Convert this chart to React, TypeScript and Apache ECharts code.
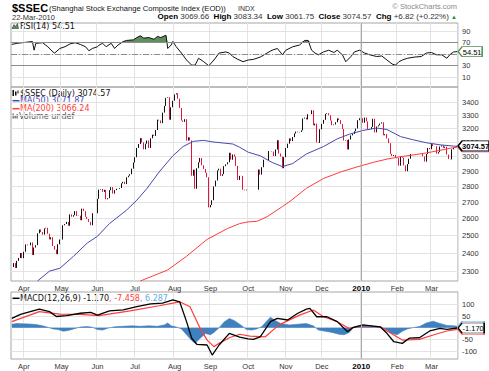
import React, { useEffect, useRef } from 'react';
import * as echarts from 'echarts';

// ---------- DATA (daily closes, every weekday incl. exchange holidays as flat bars) ----------
const closeMar09 = [2325, 2346, 2320, 2358, 2374, 2401, 2373];
const closeApr09 = [2408, 2449, 2444, 2444, 2460, 2390, 2432, 2445, 2513, 2535, 2520, 2505, 2541, 2545, 2510, 2478, 2490, 2440, 2420, 2395, 2450, 2477];
const closeMay09 = [2477, 2560, 2567, 2580, 2557, 2625, 2611, 2620, 2645, 2615, 2617, 2590, 2660, 2645, 2610, 2597, 2580, 2560, 2632, 2632, 2632];
const closeJun09 = [2721, 2779, 2783, 2765, 2778, 2718, 2725, 2776, 2795, 2754, 2776, 2785, 2784, 2789, 2820, 2830, 2815, 2860, 2870, 2880, 2917, 2959];
const closeJul09 = [2995, 3060, 3088, 3130, 3100, 3050, 3090, 3113, 3060, 3129, 3155, 3146, 3189, 3266, 3260, 3240, 3320, 3372, 3435, 3440, 3266, 3361, 3412];
const closeAug09 = [3462, 3471, 3428, 3356, 3260, 3250, 3270, 3112, 3136, 3113, 2870, 2910, 2785, 2920, 2960, 2990, 2940, 2915, 2890, 2860, 2668];
const closeSep09 = [2683, 2712, 2800, 2838, 2905, 2917, 2869, 2880, 2934, 2946, 2960, 3026, 2978, 3014, 2999, 2936, 2842, 2869, 2868, 2779, 2775, 2779];
const closeOct09 = [2779, 2779, 2779, 2779, 2779, 2779, 2911, 2877, 2927, 2978, 2978, 2976, 3038, 3037, 3034, 3004, 3049, 3115, 3021, 3000, 2920, 2996];
const closeNov09 = [3059, 3090, 3128, 3109, 3137, 3164, 3178, 3172, 3175, 3187, 3275, 3282, 3268, 3308, 3308, 3338, 3224, 3237, 3099, 3096, 3195];
const closeDec09 = [3235, 3265, 3310, 3315, 3300, 3260, 3225, 3230, 3247, 3276, 3263, 3234, 3197, 3113, 3117, 3049, 3120, 3150, 3160, 3180, 3200, 3262, 3277];
const closeJan10 = [3277, 3243, 3282, 3254, 3193, 3196, 3212, 3273, 3172, 3215, 3224, 3237, 3246, 3151, 3159, 3128, 3094, 3019, 3004, 3011, 2989];
const closeFeb10 = [2990, 2937, 3001, 2992, 2939, 2900, 2948, 2985, 3017, 3018, 3018, 3018, 3018, 3018, 3018, 3001, 2965, 3017, 3060, 3051];
const closeMar10 = [3087, 3073, 3072, 3020, 3031, 3070, 3078, 3061, 3069, 3013, 2982, 2980, 3050, 3062, 3067.75, 3074.57];

// indicator readings: [trading-day index, value]
const ma50Points = [[15, 2251], [22, 2303], [28, 2318], [36, 2383], [44, 2457], [50, 2496], [57, 2570], [67, 2651], [73, 2713], [79, 2788], [86, 2895], [94, 3005], [100, 3070], [106, 3107], [112, 3114], [117, 3103], [129, 3088], [133, 3065], [138, 3030], [145, 3005], [152, 2959], [158, 2931], [164, 2952], [172, 3018], [182, 3070], [190, 3125], [197, 3158], [205, 3186], [213, 3204], [219, 3193], [227, 3141], [234, 3119], [242, 3097], [250, 3082], [258, 3073], [260, 3071.87]];
const ma200Points = [[75, 2251], [91, 2309], [102, 2383], [114, 2478], [126, 2541], [133, 2570], [138, 2580], [143, 2583], [149, 2611], [158, 2673], [163, 2710], [172, 2788], [182, 2852], [192, 2895], [201, 2927], [211, 2960], [219, 2982], [227, 2999], [234, 3010], [242, 3025], [250, 3043], [256, 3058], [260, 3066.24]];
const rsiPoints = [[0, 67], [3, 69], [6, 70], [12, 72], [13, 57], [14, 69], [18, 70], [21, 63], [24, 54], [25, 52], [28, 60], [31, 63], [34, 68], [37, 70], [40, 67], [43, 63], [45, 56], [47, 60], [50, 63], [51, 66], [53, 69], [55, 63], [58, 69], [60, 60], [62, 66], [65, 72], [67, 74], [71, 75], [73, 79], [75, 82], [77, 78], [80, 79], [83, 76], [85, 81], [87, 79], [90, 83], [91, 60], [93, 66], [94, 72], [96, 63], [99, 52], [102, 40], [105, 31], [107, 31], [109, 43], [112, 37], [115, 30], [118, 40], [121, 52], [125, 54], [127, 52], [129, 46], [132, 41], [135, 37], [138, 40], [141, 41], [145, 45], [149, 52], [152, 57], [155, 60], [158, 49], [160, 57], [164, 63], [168, 66], [171, 74], [173, 74], [175, 57], [177, 52], [179, 49], [182, 54], [185, 57], [188, 53], [190, 57], [193, 49], [195, 37], [198, 46], [200, 54], [203, 57], [206, 52], [209, 49], [213, 46], [216, 47], [219, 40], [222, 33], [224, 31], [226, 37], [228, 40], [231, 43], [235, 45], [239, 46], [242, 52], [245, 53], [248, 49], [251, 49], [254, 43], [256, 50], [258, 54], [260, 54.51]];
const macdPoints = [[0, 40], [5, 57], [16, 80], [22, 69], [26, 48], [32, 52], [40, 62], [46, 66], [50, 54], [57, 72], [65, 76], [73, 90], [81, 102], [88, 105], [94, 119], [98, 111], [102, 26], [105, -45], [108, -71], [114, -74], [117, -117], [121, -74], [127, -24], [133, -40], [138, -48], [141, -50], [145, -39], [151, 26], [155, 40], [161, 33], [167, 62], [172, 80], [174, 83], [178, 47], [184, 47], [190, 26], [196, -17], [199, 0], [205, 12], [211, 7], [215, 4], [219, -24], [223, -60], [228, -67], [232, -45], [238, -43], [244, -14], [250, -3], [254, -7], [260, -1.17]];
const signalPoints = [[0, 26], [16, 69], [28, 58], [40, 57], [51, 52], [69, 72], [86, 94], [98, 111], [104, 90], [110, -3], [114, -53], [118, -81], [121, -67], [127, -43], [133, -28], [139, -36], [148, -39], [156, 12], [168, 54], [176, 76], [182, 47], [190, 26], [197, -3], [205, 9], [215, 4], [223, -31], [228, -53], [238, -50], [246, -31], [254, -14], [260, -7.458]];
const histPoints = [[0, 15], [3, 18], [6, 17], [10, 16], [14, 14], [18, 8], [21, 2], [24, -5], [27, -8], [30, -15], [33, -12], [36, -5], [40, 3], [44, 5], [47, 2], [50, -8], [53, -10], [56, -2], [60, 4], [65, 6], [70, 8], [75, 6], [80, 8], [85, 6], [89, 12], [91, 20], [93, 8], [96, 3], [99, -5], [102, -30], [105, -55], [107, -67], [110, -45], [113, -25], [116, -30], [118, -20], [121, 0], [124, 25], [127, 40], [130, 30], [134, 10], [137, -8], [140, -10], [143, -5], [146, 5], [149, 30], [151, 45], [154, 30], [157, 18], [162, 12], [167, 15], [172, 18], [176, 8], [179, -10], [183, -15], [187, -20], [191, -28], [194, -30], [197, -20], [200, 5], [205, 8], [210, 8], [215, 5], [219, -10], [222, -25], [225, -30], [228, -15], [231, -5], [234, 0], [238, 5], [242, 20], [246, 28], [250, 18], [254, 10], [258, 8], [260, 6.287]];

const priceTicks = [2300, 2400, 2500, 2600, 2700, 2800, 2900, 3000, 3100, 3200, 3300, 3400];
const rsiTicks = [10, 30, 50, 70, 90];
const macdLabelTicks = [-100, -50, 50, 100];
const macdGridTicks = [-100, -50, 0, 50, 100];
const monthNames = ['Jan', 'Feb', 'Mar', 'Apr', 'May', 'Jun', 'Jul', 'Aug', 'Sep', 'Oct', 'Nov', 'Dec'];

const quote = { open: '3069.66', high: '3083.34', low: '3061.75', close: '3074.57', chg: '+6.82 (+0.22%)' };
const lastVals = { rsi: '54.51', ma50: '3071.87', ma200: '3066.24', macd: '-1.170', signal: '-7.458', hist: '6.287' };

// ---------- helpers ----------
const dates: string[] = [];
for (let t = Date.UTC(2009, 2, 23); t <= Date.UTC(2010, 2, 22); t += 86400000) {
  const d = new Date(t);
  const wd = d.getUTCDay();
  if (wd === 0 || wd === 6) continue;
  dates.push(d.toISOString().slice(0, 10));
}
const LAST = dates.length - 1;
const monthStart = dates.map((d, i) => i > 0 && d.slice(5, 7) !== dates[i - 1].slice(5, 7));
const isMonthStart = (i: number) => !!monthStart[i];

const closes = [
  ...closeMar09, ...closeApr09, ...closeMay09, ...closeJun09, ...closeJul09, ...closeAug09,
  ...closeSep09, ...closeOct09, ...closeNov09, ...closeDec09, ...closeJan10, ...closeFeb10, ...closeMar10,
];
const candles = closes.map((c, i) => {
  const o = i === 0 ? c : closes[i - 1];
  return [o, c, Math.min(o, c), Math.max(o, c)];
});

const FA = '"Liberation Sans", Arial, sans-serif';
const FL = '"DejaVu Sans", Verdana, sans-serif';
const GRID = '#e3e3e3';

function tag(value: number, text: string | null, border: string, width: number, z: number, bold = false) {
  return {
    silent: true,
    z,
    symbol: `path://M0,5L4,0L${width},0L${width},10L4,10Z`,
    symbolSize: [width, 10],
    symbolOffset: [width / 2 + 1, 0],
    itemStyle: { color: '#fff', borderColor: border, borderWidth: 1 },
    label: text === null ? { show: false } : {
      show: true, position: 'inside', formatter: text, offset: [2, 0.5],
      color: '#000', fontSize: 7.5, fontWeight: bold ? 'bold' : 'normal', fontFamily: FA,
    },
    data: [{ coord: [LAST, value] }],
  };
}

const vline2010 = { xAxis: '2010-01-01', lineStyle: { color: '#a8a8a8', type: 'solid', width: 1 } };

function xAxis(g: number) {
  return {
    type: 'category', gridIndex: g, data: dates, boundaryGap: true,
    axisLine: { show: false }, axisTick: { show: false },
    axisLabel: g === 0 ? { show: false } : {
      show: true, interval: (i: number) => isMonthStart(i), margin: 3,
      fontSize: 7.5, color: '#333', fontFamily: FA,
      formatter: (v: string) => {
        const m = +v.slice(5, 7);
        return m === 1 ? `{y|${v.slice(0, 4)}}` : monthNames[m - 1];
      },
      rich: { y: { fontWeight: 'bold', fontSize: 8, color: '#000', fontFamily: FA } },
    },
    splitLine: { show: true, interval: (i: number) => isMonthStart(i), lineStyle: { color: GRID, width: 1 } },
  };
}

function yLabel(custom: number[]) {
  return { customValues: custom, margin: 4, fontSize: 7.5, color: '#333', fontFamily: FA, formatter: (v: number) => String(Math.round(v)) };
}

const option: any = {
  animation: false,
  backgroundColor: '#fff',
  grid: [
    { left: 11, top: 23, width: 447, height: 64, show: true, borderColor: '#a6a6a6', borderWidth: 1, backgroundColor: 'transparent' },
    { left: 11, top: 87, width: 447, height: 194, show: true, borderColor: '#a6a6a6', borderWidth: 1, backgroundColor: 'transparent' },
    { left: 11, top: 292, width: 447, height: 67, show: true, borderColor: '#a6a6a6', borderWidth: 1, backgroundColor: 'transparent' },
  ],
  xAxis: [xAxis(0), xAxis(1), xAxis(2)],
  yAxis: [
    {
      type: 'value', gridIndex: 0, position: 'right', min: -7, max: 104.3,
      axisLine: { show: false }, axisTick: { show: false, customValues: rsiTicks },
      axisLabel: yLabel(rsiTicks), splitLine: { show: true, lineStyle: { color: GRID } },
    },
    {
      type: 'log', logBase: 10, gridIndex: 1, position: 'right', min: 2251, max: 3522,
      axisLine: { show: false }, axisTick: { show: false, customValues: priceTicks },
      axisLabel: yLabel(priceTicks), splitLine: { show: true, lineStyle: { color: GRID } },
    },
    {
      type: 'value', gridIndex: 2, position: 'right', min: -134, max: 153,
      axisLine: { show: false }, axisTick: { show: false, customValues: macdGridTicks },
      axisLabel: yLabel(macdLabelTicks), splitLine: { show: true, lineStyle: { color: GRID } },
    },
  ],
  series: [
    // RSI overbought fill (stack: 70 baseline + excess)
    {
      type: 'line', xAxisIndex: 0, yAxisIndex: 0, stack: 'ob', symbol: 'none', silent: true,
      data: rsiPoints.map(([i]) => [i, 70]), lineStyle: { opacity: 0 },
    },
    {
      type: 'line', xAxisIndex: 0, yAxisIndex: 0, stack: 'ob', symbol: 'none', silent: true,
      data: rsiPoints.map(([i, v]) => [i, Math.max(0, v - 70)]), lineStyle: { opacity: 0 },
      areaStyle: { color: '#5e8f5e', opacity: 1 },
    },
    {
      type: 'line', xAxisIndex: 0, yAxisIndex: 0, symbol: 'none', data: rsiPoints,
      lineStyle: { color: '#111', width: 1 }, z: 3,
      markLine: {
        silent: true, symbol: 'none', label: { show: false },
        data: [
          { yAxis: 70, lineStyle: { color: '#8c8c8c', type: 'solid', width: 1 } },
          { yAxis: 30, lineStyle: { color: '#8c8c8c', type: 'solid', width: 1 } },
          { yAxis: 50, lineStyle: { color: '#8c8c8c', type: [6, 2, 1, 2], width: 1 } },
          vline2010,
        ],
      },
      markPoint: tag(54.51, lastVals.rsi, '#4f8f4f', 24, 8),
    },
    // price
    {
      type: 'candlestick', xAxisIndex: 1, yAxisIndex: 1, data: candles, barWidth: 1.2,
      itemStyle: { color: '#111', color0: '#e4163a', borderColor: '#111', borderColor0: '#e4163a', borderWidth: 1 },
      markLine: { silent: true, symbol: 'none', label: { show: false }, data: [vline2010] },
      markPoint: tag(3074.57, quote.close, '#000', 31, 9, true),
    },
    {
      type: 'line', xAxisIndex: 1, yAxisIndex: 1, symbol: 'none', data: ma50Points,
      lineStyle: { color: '#4848b0', width: 1 },
      markPoint: tag(3071.87, null, '#4848b0', 31, 7),
    },
    {
      type: 'line', xAxisIndex: 1, yAxisIndex: 1, symbol: 'none', data: ma200Points,
      lineStyle: { color: '#ff3b3b', width: 1 },
      markPoint: tag(3066.24, null, '#ff3b3b', 31, 6),
    },
    // MACD
    {
      type: 'line', xAxisIndex: 2, yAxisIndex: 2, symbol: 'none', data: histPoints,
      lineStyle: { color: '#3f80be', width: 0.6 }, areaStyle: { color: '#3f80be', opacity: 1 },
      markPoint: tag(6.287, null, '#6ab0e0', 26, 6),
    },
    {
      type: 'line', xAxisIndex: 2, yAxisIndex: 2, symbol: 'none', data: signalPoints,
      lineStyle: { color: '#ff3b3b', width: 1.2 },
      markPoint: tag(-7.458, null, '#ff3b3b', 26, 7),
    },
    {
      type: 'line', xAxisIndex: 2, yAxisIndex: 2, symbol: 'none', data: macdPoints,
      lineStyle: { color: '#000', width: 1.3 },
      markLine: { silent: true, symbol: 'none', label: { show: false }, data: [vline2010] },
      markPoint: tag(-1.17, lastVals.macd, '#000', 26, 8),
    },
  ],
  graphic: [
    { type: 'text', x: 12, y: 7.6, style: { text: '$SSEC', fontSize: 11, fontWeight: 'bold', fontFamily: FA, fill: '#000', verticalAlign: 'middle', textVerticalAlign: 'middle' } },
    { type: 'text', x: 49, y: 8.6, style: { text: '(Shanghai Stock Exchange Composite Index (EOD))', fontSize: 7.6, fontFamily: FA, fill: '#111', verticalAlign: 'middle', textVerticalAlign: 'middle' } },
    { type: 'text', x: 238, y: 8.6, style: { text: 'INDX', fontSize: 7, fontFamily: FA, fill: '#333', verticalAlign: 'middle', textVerticalAlign: 'middle' } },
    { type: 'text', x: 457, y: 6.5, style: { text: '\u00a9 StockCharts.com', fontSize: 7.5, fontFamily: FA, fill: '#8a8a8a', align: 'right', textAlign: 'right', verticalAlign: 'middle', textVerticalAlign: 'middle' } },
    { type: 'text', x: 12, y: 17.2, style: { text: '22-Mar-2010', fontSize: 7.5, fontFamily: FA, fill: '#333', verticalAlign: 'middle', textVerticalAlign: 'middle' } },
    {
      type: 'text', x: 457, y: 16.5,
      style: {
        text: `{b|Open} ${quote.open}  {b|High} ${quote.high}  {b|Low} ${quote.low}  {b|Close} ${quote.close}  {b|Chg} ${quote.chg} {g|\u25b2}`,
        fontSize: 8, fontFamily: FA, fill: '#333', align: 'right', textAlign: 'right', verticalAlign: 'middle', textVerticalAlign: 'middle',
        rich: { b: { fontWeight: 'bold', fontSize: 8, fontFamily: FA, fill: '#000', color: '#000' }, g: { fontSize: 6, fill: '#2e8b2e', color: '#2e8b2e' } },
      },
    },
    // RSI legend
    { type: 'polygon', shape: { points: [[12, 28.5], [14, 24.5], [15.5, 26.5], [17.5, 23.5], [18.5, 28.5]] }, style: { fill: '#5e8f5e', stroke: '#222', lineWidth: 0.5 } },
    { type: 'text', x: 20, y: 26, style: { text: 'RSI(14) 54.51', fontSize: 8, fontFamily: FL, fill: '#111', verticalAlign: 'middle', textVerticalAlign: 'middle' } },
    // price legend
    { type: 'rect', shape: { x: 12.5, y: 90, width: 1.5, height: 6 }, style: { fill: '#111' } },
    { type: 'rect', shape: { x: 15, y: 91.5, width: 1.5, height: 4 }, style: { fill: '#111' } },
    { type: 'rect', shape: { x: 17.5, y: 90.5, width: 1, height: 3 }, style: { fill: '#111' } },
    { type: 'text', x: 20, y: 93.3, style: { text: '$SSEC (Daily) 3074.57', fontSize: 8, fontFamily: FL, fill: '#111', verticalAlign: 'middle', textVerticalAlign: 'middle' } },
    { type: 'line', shape: { x1: 12.5, y1: 100.7, x2: 19.5, y2: 100.7 }, style: { stroke: '#4848b0', lineWidth: 1.5 } },
    { type: 'text', x: 20, y: 100.9, style: { text: 'MA(50) 3071.87', fontSize: 8, fontFamily: FL, fill: '#4848b0', verticalAlign: 'middle', textVerticalAlign: 'middle' } },
    { type: 'line', shape: { x1: 12.5, y1: 108.7, x2: 19.5, y2: 108.7 }, style: { stroke: '#ff3b3b', lineWidth: 1.5 } },
    { type: 'text', x: 20, y: 108.9, style: { text: 'MA(200) 3066.24', fontSize: 8, fontFamily: FL, fill: '#ff3b3b', verticalAlign: 'middle', textVerticalAlign: 'middle' } },
    { type: 'rect', shape: { x: 12.5, y: 113.5, width: 1.3, height: 5 }, style: { fill: '#666' } },
    { type: 'rect', shape: { x: 14.5, y: 115, width: 1.3, height: 3.5 }, style: { fill: '#666' } },
    { type: 'rect', shape: { x: 16.5, y: 114, width: 1.3, height: 4.5 }, style: { fill: '#666' } },
    { type: 'text', x: 19, y: 116.5, style: { text: 'Volume undef', fontSize: 8, fontFamily: FL, fill: '#555', verticalAlign: 'middle', textVerticalAlign: 'middle' } },
    // MACD legend
    { type: 'line', shape: { x1: 12.5, y1: 298.3, x2: 19.5, y2: 298.3 }, style: { stroke: '#000', lineWidth: 1.5 } },
    {
      type: 'text', x: 20, y: 298.5,
      style: {
        text: `{k|MACD(12,26,9) ${lastVals.macd}}{r|, ${lastVals.signal}}{c|, ${lastVals.hist}}`,
        fontSize: 8, fontFamily: FL, fill: '#111', verticalAlign: 'middle', textVerticalAlign: 'middle',
        rich: {
          k: { fontSize: 8, fontFamily: FL, fill: '#111', color: '#111' },
          r: { fontSize: 8, fontFamily: FL, fill: '#ff3b3b', color: '#ff3b3b' },
          c: { fontSize: 8, fontFamily: FL, fill: '#5aaee0', color: '#5aaee0' },
        },
      },
    },
  ],
};

export default function App() {
  const ref = useRef<HTMLDivElement>(null);
  useEffect(() => {
    const chart = echarts.init(ref.current!, null, { renderer: 'svg' });
    chart.setOption(option);
    return () => chart.dispose();
  }, []);
  return <div ref={ref} style={{ position: 'absolute', left: 0, top: 0, width: 489, height: 371, background: '#fff' }} />;
}
